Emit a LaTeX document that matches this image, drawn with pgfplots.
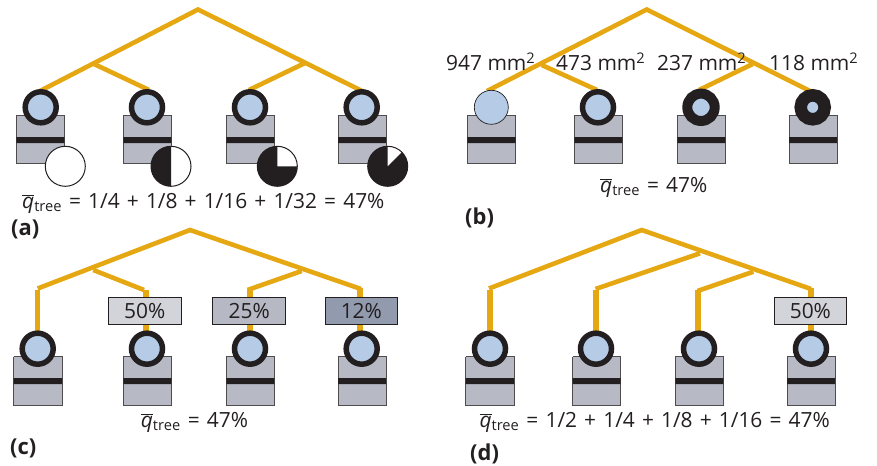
\documentclass[border=0pt]{standalone}
\usepackage{fontspec}
\setmainfont{Open Sans}
\usepackage{pgfplots}
\pgfplotsset{compat=1.18}
\definecolor{gold}{HTML}{E5A712}
\definecolor{lens}{HTML}{B6CCE6}
\definecolor{body}{HTML}{B7BAC4}
\definecolor{ink}{HTML}{231F20}
\definecolor{boxa}{HTML}{D3D4D9}
\definecolor{boxb}{HTML}{B6B9C3}
\definecolor{boxc}{HTML}{929BAE}

% pie marks: white disc, black sector from the given start angle to the end angle
\newcommand{\piemark}[3]{%
  \pgfdeclareplotmark{#1}{%
    \pgfsetfillcolor{white}\pgfpathcircle{\pgfpointorigin}{\pgfplotmarksize}\pgfusepathqfill
    \pgfsetfillcolor{ink}%
    \pgfpathmoveto{\pgfpointorigin}%
    \pgfpathlineto{\pgfpointpolar{#2}{\pgfplotmarksize}}%
    \pgfpatharc{#2}{#3}{\pgfplotmarksize}%
    \pgfpathclose\pgfusepathqfill
    \pgfsetstrokecolor{ink}\pgfsetlinewidth{1bp}%
    \pgfpathcircle{\pgfpointorigin}{\pgfplotmarksize}\pgfusepathqstroke
  }}
\pgfdeclareplotmark{pieone}{%
  \pgfsetfillcolor{white}\pgfsetstrokecolor{ink}\pgfsetlinewidth{1bp}%
  \pgfpathcircle{\pgfpointorigin}{\pgfplotmarksize}\pgfusepathqfillstroke
}
\piemark{pietwo}{90}{270}
\piemark{piethree}{90}{360}
\piemark{piefour}{90}{405}

% x0 x1 y0 y1 bar-y0 bar-y1
\newcommand{\cam}[6]{%
  \addplot[fill=body,draw=ink!80,line width=0.9bp] coordinates {(#1,#3)(#2,#3)(#2,#4)(#1,#4)(#1,#3)};
  \addplot[fill=ink,draw=none] coordinates {(#1,#5)(#2,#5)(#2,#6)(#1,#6)(#1,#5)};
}
% x0 x1 y0 y1 colour text
\newcommand{\tag}[6]{%
  \addplot[fill=#5,draw=ink,line width=1bp] coordinates {(#1,#3)(#2,#3)(#2,#4)(#1,#4)(#1,#3)};
  \node[text=ink,font=\fontsize{21}{21}\selectfont] at (axis cs:{(#1+#2)/2},{(#3+#4)/2}) {#6};
}
\newcommand{\qt}{$\overline{\mbox{\textit{q}}}$\textsubscript{tree}}
\newcommand{\lbl}[3]{\node[anchor=base west,text=ink,font=\fontsize{21}{24}\selectfont,inner sep=0pt] at (axis cs:#1,#2) {#3};}
\newcommand{\qlbl}[3]{\node[anchor=base west,text=ink,font=\fontsize{21}{24}\selectfont,inner sep=0pt] at (axis cs:#1,#2) {\spaceskip=7.1bp\relax #3};}
\newcommand{\pan}[3]{\node[anchor=base west,text=ink,font=\fontsize{22}{24}\selectfont\bfseries,inner sep=0pt] at (axis cs:#1,#2) {#3};}
\newcommand{\stem}[3]{\addplot[gold,line width=5.2bp] coordinates {(#1,#2)(#1,#3)};}

\begin{document}
\begin{tikzpicture}
\begin{axis}[
    scale only axis,
    width=877bp,
    height=466bp,
    xmin=0, xmax=877,
    ymin=0, ymax=466,
    y dir=reverse,
    hide axis,
    clip=false,
]
% trees
\pgfplotsset{every axis plot/.append style={line join=miter}}
\addplot[gold,line width=4.6bp] coordinates {(40,91)(198,9.5)(362,91)};
\addplot[gold,line width=4.6bp] coordinates {(94,64)(149,90)};
\addplot[gold,line width=4.6bp] coordinates {(305,63)(249,90)};

\addplot[gold,line width=4.6bp] coordinates {(487,91)(646.7,9.5)(810,91)};
\addplot[gold,line width=4.6bp] coordinates {(541.7,65)(597,90)};
\addplot[gold,line width=4.6bp] coordinates {(752.7,64)(699,90)};

\addplot[gold,line width=4.6bp] coordinates {(37.7,288.5)(190,230)(361,289)};
\addplot[gold,line width=4.6bp] coordinates {(93.3,270)(144,290)};
\addplot[gold,line width=4.6bp] coordinates {(301.7,271)(247.5,290)};
\stem{37.7}{290}{335}
\stem{146}{290}{335}
\stem{250}{290}{335}
\stem{360}{288}{335}

\addplot[gold,line width=4.6bp] coordinates {(489,288.5)(641.7,230)(811,289)};
\addplot[gold,line width=4.6bp] coordinates {(700,253.3)(595.5,289)};
\addplot[gold,line width=4.6bp] coordinates {(753.3,271.7)(697.5,291)};
\stem{490}{290}{335}
\stem{596}{290}{335}
\stem{698}{290}{335}
\stem{811}{288}{335}

% camera bodies
\cam{16.3}{64.3}{115.7}{163.3}{137}{143}
\cam{123.3}{171.3}{115.7}{163.3}{137}{143}
\cam{226.3}{274.3}{115.7}{163.3}{137}{143}
\cam{338}{386}{115.7}{163.3}{137}{143}

\cam{467.3}{515.7}{115.7}{163.3}{137}{143}
\cam{574.3}{622.3}{115.7}{163.3}{137}{143}
\cam{677.3}{725.3}{115.7}{163.3}{137}{143}
\cam{789}{837}{115.7}{163.3}{137}{143}

\cam{13.7}{62}{356.7}{405}{378}{384}
\cam{123.3}{171.3}{356.7}{405}{378}{384}
\cam{226.3}{274.3}{356.7}{405}{378}{384}
\cam{338}{386}{356.7}{405}{378}{384}

\cam{465.7}{514}{356.7}{405}{378}{384}
\cam{572.7}{620.7}{356.7}{405}{378}{384}
\cam{675.3}{723.3}{356.7}{405}{378}{384}
\cam{787}{835}{356.7}{405}{378}{384}

% lenses with the full ring
\addplot[only marks,mark=*,mark size=15.5bp,mark options={draw=ink,fill=lens,line width=5.5bp}] coordinates {
  (40.7,107.3)(147,107.3)(250,107.3)(361.7,107.3)
  (598,107.3)
  (37.7,348.7)(147,348.7)(250,348.7)(361.7,348.7)
  (490,348.7)(596,348.7)(699,348.7)(811,348.7)
};
% lenses of panel b
\addplot[only marks,mark=*,mark size=17bp,mark options={draw=ink,fill=lens,line width=0.7bp}] coordinates {(491.3,107.3)};
\addplot[only marks,mark=*,mark size=13.7bp,mark options={draw=ink,fill=lens,line width=10bp}] coordinates {(701,107.3)};
\addplot[only marks,mark=*,mark size=12bp,mark options={draw=ink,fill=lens,line width=12.5bp}] coordinates {(812.7,107.3)};

% pies
\addplot[only marks,mark=pieone,mark size=20bp] coordinates {(65.3,166.3)};
\addplot[only marks,mark=pietwo,mark size=20bp] coordinates {(171,166.3)};
\addplot[only marks,mark=piethree,mark size=20bp] coordinates {(277.3,166.3)};
\addplot[only marks,mark=piefour,mark size=20bp] coordinates {(387.7,166.3)};

% filter boxes
\tag{108.3}{181.3}{297.3}{324.3}{boxa}{50\%}
\tag{212.7}{285.7}{297.3}{324.3}{boxb}{25\%}
\tag{325}{397.7}{297.3}{324.3}{boxc}{12\%}
\tag{774}{846.7}{297.3}{324.3}{boxa}{50\%}

% text
\lbl{446}{71}{947 mm\textsuperscript{2}}
\lbl{556}{71}{473 mm\textsuperscript{2}}
\lbl{657}{71}{237 mm\textsuperscript{2}}
\lbl{769}{71}{118 mm\textsuperscript{2}}
\qlbl{22}{208}{\qt{} = 1/4 + 1/8 + 1/16 + 1/32 = 47\%}
\qlbl{600}{192}{\qt{} = 47\%}
\qlbl{140.7}{427}{\qt{} = 47\%}
\qlbl{479.3}{427}{\qt{} = 1/2 + 1/4 + 1/8 + 1/16 = 47\%}
\pan{11}{235}{(a)}
\pan{465}{224}{(b)}
\pan{10}{454}{(c)}
\pan{470}{460}{(d)}
\end{axis}
\path (0,0) rectangle (877bp,466bp);
\end{tikzpicture}
\end{document}
